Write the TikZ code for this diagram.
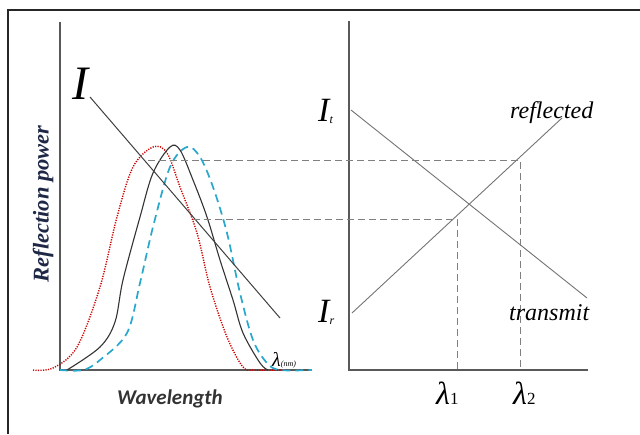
\documentclass[tikz,border=0pt]{standalone}
\usepackage{fontspec}
\setmainfont{Liberation Serif}
\newfontfamily\tms{Liberation Serif}
\newfontfamily\calib{Carlito}
\begin{document}
\begin{tikzpicture}[x=1pt,y=-1pt,
  axis/.style={draw=black!65,line width=1.5pt},
  thinline/.style={draw=black!55,line width=0.9pt},
  guide/.style={draw=black!50,line width=0.8pt,dash pattern=on 7pt off 4pt},
  redc/.style={draw=red!80!black,line width=1.4pt,dash pattern=on 1.2pt off 1.3pt},
  cyanc/.style={draw={rgb,255:red,40;green,168;blue,205},line width=1.7pt,dash pattern=on 8pt off 5pt},
  blackc/.style={draw=black!80,line width=1.1pt},
  lab/.style={inner sep=0pt,anchor=center}]
\useasboundingbox (0,0) rectangle (640,434);
\fill[white] (0,0) rectangle (640,434);
% frame
\draw[line width=1.5pt,black!85] (8,434) -- (8,10) -- (640,10);
% left panel axes
\coordinate (LO) at (60,370);
\coordinate (LT) at (60,22);
\coordinate (LR) at (310,370);
\draw[axis] (LT) -- (LO) -- (LR);
% right panel axes
\coordinate (RO) at (349,370);
\coordinate (RT) at (349,21);
\coordinate (RR) at (588,370);
\draw[axis] (RT) -- (RO) -- (RR);
% curves
\draw[redc] plot[smooth,tension=0.55] coordinates {(33,370) (53,368) (77,347) (100,287) (117,217) (133,167) (153,147) (167,153) (180,187) (197,233) (210,287) (227,337) (243,367) (255,370) (290,370)};
\draw[cyanc] plot[smooth,tension=0.55] coordinates {(60,370) (83,370) (100,360) (127,333) (140,283) (153,227) (170,167) (187,147) (200,157) (213,187) (227,233) (240,293) (253,340) (267,363) (280,370) (312,370)};
\draw[blackc] plot[smooth,tension=0.55] coordinates {(67,370) (100,347) (115,322) (123,280) (140,217) (153,173) (170,147) (180,150) (193,180) (207,217) (220,260) (233,300) (243,333) (260,363) (268,370)};
% left I line
\node[lab,font=\tms\fontsize{48}{48}\selectfont\itshape] (IL) at (80,84) {I};
\coordinate (IL1) at (90,97);
\coordinate (IL2) at (280,318);
\draw[draw=black!75,line width=1pt] (IL1) -- (IL2);
% right lines
\coordinate (T1) at (351,110);
\coordinate (T2) at (587,298);
\coordinate (R1) at (352,313);
\coordinate (R2) at (562,118);
\draw[thinline] (T1) -- (T2);
\draw[thinline] (R1) -- (R2);
% guides
\coordinate (G1a) at (148,160);
\coordinate (G1b) at (520,160);
\coordinate (G1c) at (520,370);
\coordinate (G2a) at (193,219);
\coordinate (G2b) at (457,219);
\coordinate (G2c) at (457,370);
\draw[guide] (G1a) -- (G1b) -- (G1c);
\draw[guide] (G2a) -- (G2b) -- (G2c);
% labels
\node[lab,rotate=90,text={rgb,255:red,30;green,40;blue,70},font=\tms\fontsize{22.5}{22.5}\selectfont\bfseries\itshape] (rp) at (43,204) {Reflection power};
\node[lab,text=black!80,font=\calib\fontsize{21}{21}\selectfont\bfseries\itshape] (wl) at (170,399) {Wavelength};
\node[lab,anchor=base west] (lnm) at (272,366) {\tms\fontsize{20}{20}\selectfont\itshape λ\fontsize{8}{8}\selectfont(nm)};
\node[lab,anchor=base west] (It) at (318,121) {\tms\fontsize{34}{34}\selectfont\itshape I\raisebox{-2pt}{\fontsize{12}{12}\selectfont t}};
\node[lab,anchor=base west] (Ir) at (318,322) {\tms\fontsize{34}{34}\selectfont\itshape I\raisebox{-2pt}{\fontsize{12}{12}\selectfont r}};
\node[lab,anchor=base west,font=\tms\fontsize{24}{24}\selectfont\itshape] (refl) at (510,118) {reflected};
\node[lab,anchor=base west,font=\tms\fontsize{24}{24}\selectfont\itshape] (trans) at (509,320) {transmit};
\node[lab,anchor=base west] (l1) at (436,404) {\tms\fontsize{32}{32}\selectfont\itshape λ\fontsize{17}{17}\selectfont\upshape 1};
\node[lab,anchor=base west] (l2) at (513,404) {\tms\fontsize{32}{32}\selectfont\itshape λ\fontsize{17}{17}\selectfont\upshape 2};
\end{tikzpicture}
\end{document}
